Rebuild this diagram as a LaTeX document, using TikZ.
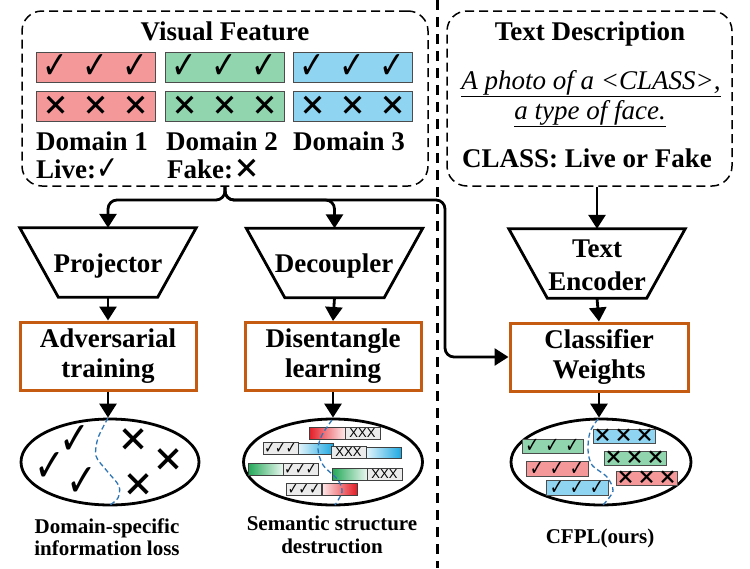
\documentclass[tikz,border=0pt]{standalone}
\usepackage{fontspec}
\usepackage{graphicx}
\setmainfont{Liberation Serif}
\newfontfamily\cjkf{Noto Sans CJK SC}
\newfontfamily\dejaf{DejaVu Sans}
\newfontfamily\arialf{Liberation Sans}
\usetikzlibrary{arrows.meta,shapes.geometric,calc}
\newcommand{\ckm}{{\dejaf\scalebox{0.8}[1]{✓}}}
\newcommand{\xmk}{{\cjkf\bfseries ×}}
\definecolor{pinkb}{RGB}{244,152,154}
\definecolor{greenb}{RGB}{145,213,175}
\definecolor{blueb}{RGB}{143,213,242}
\definecolor{orangeb}{RGB}{197,90,17}
\definecolor{curveb}{RGB}{46,117,182}
\definecolor{redg}{RGB}{228,28,38}
\definecolor{greeng}{RGB}{34,168,88}
\definecolor{blueg}{RGB}{30,168,225}
\newcommand{\glyphbar}[9]{%
  \node[bar, fill=#6, minimum width=#4, minimum height=#5] (#1) at (#2,#3) {};
  \foreach \k/\s in {-1/a,0/b,1/c}{\node[inner sep=0pt, font=\fontsize{#9}{#9}\selectfont] (#1\s) at ($(#1.center)+(\k*#8,0)$) {#7};}%
}
\newcommand{\gradpart}[6]{%
  \shade[left color=#5, right color=#6, draw=black!75, line width=0.6pt] (#1,#3) rectangle (#2,#4);%
}
\begin{document}
\begin{tikzpicture}[x=1pt,y=-1pt,
  lbl/.style={font=\bfseries\fontsize{27}{30}\selectfont, inner sep=0pt},
  itl/.style={font=\itshape\fontsize{27}{30}\selectfont, inner sep=0pt},
  small/.style={font=\bfseries\fontsize{21}{23}\selectfont, inner sep=0pt},
  dbox/.style={draw, line width=1.5pt, dash pattern=on 9pt off 5pt, rounded corners=20pt},
  arr/.style={line width=2.8pt, -{Triangle[width=17pt,length=14pt]}},
  obox/.style={draw=orangeb, line width=3pt, minimum height=68},
  trapn/.style={minimum width=176, minimum height=69, inner sep=0pt},
  trapline/.style={line width=2.8pt, line join=miter},
  bar/.style={draw=black!70, line width=0.8pt, inner sep=0pt},
  sbox/.style={draw=black!75, fill=black!8, line width=0.6pt, inner sep=0pt, minimum width=35, minimum height=12},
  ell/.style={ellipse, draw, line width=2.8pt, inner sep=0pt},
  sepl/.style={line width=3pt, dash pattern=on 10pt off 7pt},
  divc/.style={curveb, line width=1.3pt, dash pattern=on 5pt off 3pt},
  stxt/.style={inner sep=0pt}
]
\useasboundingbox (0,0) rectangle (750,568);

% separator
\coordinate (sepT) at (437,0);
\coordinate (sepB) at (437,568);
\draw[sepl] (sepT) -- (sepB);

% ---------- Visual Feature ----------
\node[dbox, minimum width=406, minimum height=175] (vf) at (225,98.5) {};
\node[lbl, anchor=base] (vft) at (225,40) {Visual Feature};
\glyphbar{r1a}{95.5}{67}{119}{30}{pinkb}{\ckm}{40}{38}
\glyphbar{r1b}{224.5}{67}{119}{30}{greenb}{\ckm}{40}{38}
\glyphbar{r1c}{352.5}{67}{119}{30}{blueb}{\ckm}{40}{38}
\glyphbar{r2a}{95.5}{106}{119}{30}{pinkb}{\xmk}{40}{27}
\glyphbar{r2b}{224.5}{106}{119}{30}{greenb}{\xmk}{40}{27}
\glyphbar{r2c}{352.5}{106}{119}{30}{blueb}{\xmk}{40}{27}
\node[lbl, anchor=base west] (d1) at (36,150) {Domain 1};
\node[lbl, anchor=base west] (d2) at (166,150) {Domain 2};
\node[lbl, anchor=base west] (d3) at (293,150) {Domain 3};
\node[lbl, anchor=base west] (live) at (36,178) {Live:\smash{\raisebox{-1.5pt}{\fontsize{33}{33}\selectfont\ckm}}};
\node[lbl, anchor=base west] (fake) at (167,178) {Fake:\smash{\fontsize{27}{27}\selectfont\xmk}};

% ---------- Text Description ----------
\node[dbox, minimum width=285, minimum height=175] (td) at (589.5,98.5) {};
\node[lbl, anchor=base] (tdt) at (590,40) {Text Description};
\node[itl, anchor=base] (tdl1) at (591,89) {\underline{A photo of a <CLASS>,}};
\node[itl, anchor=base] (tdl2) at (590,119) {\underline{a type of face.}};
\node[lbl, anchor=base] (tdl3) at (587,167) {CLASS: Live or Fake};

% ---------- Trapezoids ----------
\node[trapn] (proj) at (108,262.5) {};
\node[trapn] (dec) at (334.5,263) {};
\node[trapn] (te) at (597,263.5) {};
\foreach \n in {proj,dec,te}{
  \draw[trapline] (\n.north west) -- (\n.north east) -- ($(\n.south east)+(-38.5,0)$) -- ($(\n.south west)+(38.5,0)$) -- cycle;
}
\node[lbl, anchor=base] (projt) at (108,272) {Projector};
\node[lbl, anchor=base] (dect) at (334,272) {Decoupler};
\node[lbl, anchor=base] (tet1) at (597,257) {Text};
\node[lbl, anchor=base] (tet2) at (597,290) {Encoder};

% ---------- Orange boxes ----------
\node[obox, minimum width=176] (adv) at (108,356) {};
\node[obox, minimum width=176] (dis) at (333,356.5) {};
\node[obox, minimum width=178] (cls) at (599,357) {};
\node[lbl, anchor=base] (advt1) at (108,347) {Adversarial};
\node[lbl, anchor=base] (advt2) at (108,377) {training};
\node[lbl, anchor=base] (dist1) at (333,347) {Disentangle};
\node[lbl, anchor=base] (dist2) at (333,377) {learning};
\node[lbl, anchor=base] (clst1) at (599,348) {Classifier};
\node[lbl, anchor=base] (clst2) at (599,378) {Weights};

% ---------- Ellipses ----------
\node[ell, minimum width=178, minimum height=86] (e1) at (110,462) {};
\node[ell, minimum width=179, minimum height=86] (e2) at (333,462) {};
\node[ell, minimum width=180, minimum height=86] (e3) at (601,462) {};

% ellipse 1 content
\draw[divc] plot[smooth] coordinates {(108,418) (98,438) (96,456) (107,471) (119,486) (118,498) (110,505)};
\node[stxt, font=\fontsize{46}{46}\selectfont] (c1) at (75,440) {\ckm};
\node[stxt, font=\fontsize{46}{46}\selectfont] (c2) at (50,467) {\ckm};
\node[stxt, font=\fontsize{46}{46}\selectfont] (c3) at (82,482) {\ckm};
\node[stxt, font=\fontsize{32}{32}\selectfont] (x1) at (133,440) {\xmk};
\node[stxt, font=\fontsize{32}{32}\selectfont] (x2) at (168,460) {\xmk};
\node[stxt, font=\fontsize{32}{32}\selectfont] (x3) at (138,485) {\xmk};

% ellipse 2 content
\gradpart{309}{345}{427}{439}{redg}{redg!10}
\node[sbox] (sa) at (362.5,433) {\arialf\fontsize{13}{13}\selectfont XXX};
\node[sbox] (sb) at (280.5,448.5) {\fontsize{16}{16}\selectfont\ckm\ckm\ckm};
\gradpart{298}{333}{443}{454}{blueg!12}{blueg}
\node[sbox] (sc) at (348.5,452.5) {\arialf\fontsize{13}{13}\selectfont XXX};
\gradpart{366}{401}{447}{458}{blueg!12}{blueg}
\gradpart{248}{283}{463}{475}{greeng}{greeng!10}
\node[sbox] (sd) at (300.5,469) {\fontsize{16}{16}\selectfont\ckm\ckm\ckm};
\gradpart{332}{367}{468}{480}{greeng}{greeng!10}
\node[sbox] (se) at (384.5,474) {\arialf\fontsize{13}{13}\selectfont XXX};
\node[sbox] (sf) at (304,489) {\fontsize{16}{16}\selectfont\ckm\ckm\ckm};
\gradpart{322}{357}{483}{495}{redg!10}{redg}
\draw[divc] plot[smooth] coordinates {(332,420) (322,435) (318,449) (323,465) (338,480) (342,492) (335,505)};

% ellipse 3 content
\draw[divc] plot[smooth] coordinates {(598,419) (590,432) (588,450) (592,465) (607,477) (613,491) (603,505)};
\glyphbar{g1}{552.5}{446}{61}{14}{greenb}{\ckm}{20}{21}
\glyphbar{g2}{557}{468.5}{62}{15}{pinkb}{\ckm}{20}{21}
\glyphbar{g3}{577}{487.5}{62}{15}{blueb}{\ckm}{20}{21}
\glyphbar{g4}{624}{436}{62}{14}{blueb}{\xmk}{21}{19}
\glyphbar{g5}{635}{458}{62}{14}{greenb}{\xmk}{21}{19}
\glyphbar{g6}{646.5}{478}{61}{14}{pinkb}{\xmk}{21}{19}

% captions
\node[small, anchor=base] (cap1a) at (107,533) {Domain-specific};
\node[small, anchor=base] (cap1b) at (107,555) {information loss};
\node[small, anchor=base] (cap2a) at (332,530) {Semantic structure};
\node[small, anchor=base] (cap2b) at (332,553) {destruction};
\node[small, anchor=base] (cap3) at (600,543) {CFPL(ours)};

% ---------- connectors ----------
\coordinate (j) at (225,200);
\coordinate (bend) at (445,200);
\draw[arr, rounded corners=9pt] (vf.south) |- (proj.north |- j) -- (proj.north);
\draw[arr, rounded corners=9pt] (vf.south) |- (dec.north |- j) -- (dec.north);
\draw[arr, rounded corners=9pt] (vf.south) |- (bend) |- (cls.west);
\draw[arr] (td.south -| te.north) -- (te.north);
\draw[arr] (proj.south) -- (adv.north);
\draw[arr] (dec.south) -- (dis.north);
\draw[arr] (te.south) -- (cls.north);
\draw[arr] (adv.south) -- (adv.south |- e1.north);
\draw[arr] (dis.south) -- (dis.south |- e2.north);
\draw[arr] (cls.south) -- (cls.south |- e3.north);
\end{tikzpicture}
\end{document}
